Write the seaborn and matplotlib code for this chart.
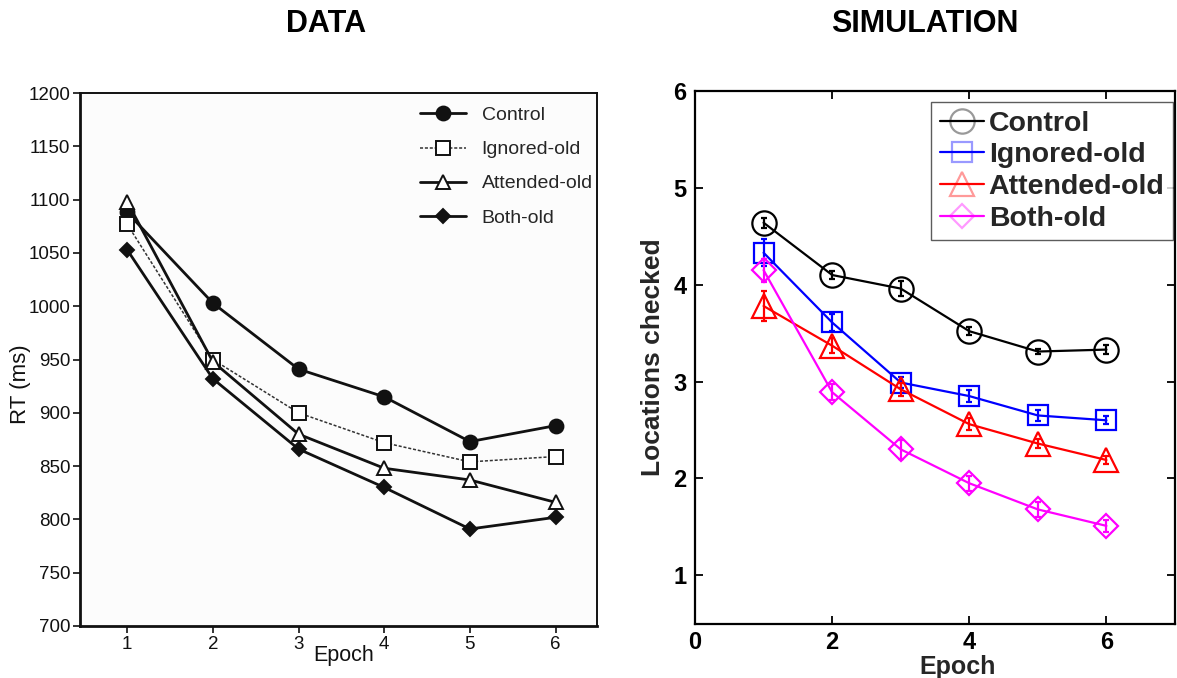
import numpy as np
import pandas as pd
import matplotlib
matplotlib.use("Agg")
import matplotlib.pyplot as plt
import seaborn as sns

# ---------------- data ----------------
epochs = [1, 2, 3, 4, 5, 6]
series_names = ["Control", "Ignored-old", "Attended-old", "Both-old"]

# DATA panel (RT in ms)
rt_control = [1088, 1003, 941, 915, 873, 888]
rt_ignored = [1077, 950, 900, 872, 854, 859]
rt_attended = [1098, 948, 880, 848, 837, 816]
rt_both = [1053, 932, 866, 830, 791, 802]

# SIMULATION panel (locations checked)
sim_control = [4.64, 4.10, 3.96, 3.52, 3.31, 3.33]
sim_ignored = [4.33, 3.61, 2.99, 2.85, 2.65, 2.60]
sim_attended = [3.78, 3.37, 2.92, 2.56, 2.36, 2.19]
sim_both = [4.15, 2.89, 2.30, 1.95, 1.68, 1.51]

err_control = [0.05, 0.04, 0.08, 0.04, 0.03, 0.05]
err_ignored = [0.14, 0.09, 0.06, 0.06, 0.06, 0.04]
err_attended = [0.15, 0.08, 0.07, 0.06, 0.05, 0.04]
err_both = [0.12, 0.08, 0.10, 0.08, 0.08, 0.06]

left_yticks = [700, 750, 800, 850, 900, 950, 1000, 1050, 1100, 1150, 1200]
right_yticks = [1, 2, 3, 4, 5, 6]
right_xticks = [0, 2, 4, 6]

# ---------------- style ----------------
sns.set_theme(style="ticks")
plt.rcParams["font.family"] = ["Liberation Sans", "DejaVu Sans"]

fig = plt.figure(figsize=(11.77, 6.78), dpi=100)
fig.patch.set_facecolor("white")
axL = fig.add_axes([0.068, 0.0767, 0.439, 0.786])
axR = fig.add_axes([0.5905, 0.0801, 0.4078, 0.7857])

# ---------------- left panel ----------------
left_vals = [rt_control, rt_ignored, rt_attended, rt_both]
left_styles = [
    dict(marker="o", color="#111111", lw=2.0, ls="-", ms=10, mfc="#111111"),
    dict(marker="s", color="#333333", lw=1.1, ls=(0, (2, 1.2)), ms=9.5, mfc="white"),
    dict(marker="^", color="#111111", lw=2.0, ls="-", ms=9.5, mfc="white"),
    dict(marker="D", color="#111111", lw=2.0, ls="-", ms=7, mfc="#111111"),
]
for name, vals, st in zip(series_names, left_vals, left_styles):
    sns.lineplot(x=epochs, y=vals, ax=axL, label=name, color=st["color"],
                 linewidth=st["lw"], linestyle=st["ls"], marker=st["marker"],
                 markersize=st["ms"], markerfacecolor=st["mfc"],
                 markeredgecolor="#111111", markeredgewidth=1.4)

axL.set_xlim(0.45, 6.48)
axL.set_ylim(700, 1200)
axL.set_yticks(left_yticks)
axL.set_xticks(epochs)
axL.tick_params(axis="both", direction="out", length=5, width=1.2,
                labelsize=13.5, colors="#111111", top=False, right=False, pad=2)
for sp in axL.spines.values():
    sp.set_visible(True)
    sp.set_color("#111111")
    sp.set_linewidth(1.4)
axL.spines["left"].set_linewidth(2.0)
axL.spines["bottom"].set_linewidth(2.0)
axL.set_xlabel("Epoch", fontsize=15.5, color="#111111")
axL.xaxis.label.set_va("center")
axL.xaxis.set_label_coords(0.511, -0.056)
axL.set_ylabel("RT (ms)", fontsize=16, color="#111111")
axL.yaxis.label.set_va("center")
axL.yaxis.set_label_coords(-0.116, 0.454)
legL = axL.legend(loc="upper right", frameon=False, fontsize=14,
                  handlelength=2.4, labelspacing=0.85, borderaxespad=0.0,
                  borderpad=0.2, bbox_to_anchor=(1.0, 0.982))
axL.set_facecolor("#fcfcfc")

# ---------------- right panel ----------------
right_vals = [sim_control, sim_ignored, sim_attended, sim_both]
right_errs = [err_control, err_ignored, err_attended, err_both]
right_colors = ["#000000", "#0000ff", "#ff0000", "#ff00ff"]
right_markers = ["o", "s", "^", "D"]
right_ms = [17.5, 14.5, 17.5, 12.5]

for name, vals, errs, c, m, ms in zip(series_names, right_vals, right_errs,
                                      right_colors, right_markers, right_ms):
    sns.lineplot(x=epochs, y=vals, ax=axR, label=name, color=c, linewidth=1.6,
                 marker=m, markersize=ms, markerfacecolor="none",
                 markeredgecolor=c, markeredgewidth=1.6)
    axR.errorbar(epochs, vals, yerr=errs, fmt="none", ecolor=c,
                 elinewidth=1.6, capsize=2.2, capthick=1.6)

axR.set_xlim(0, 7)
axR.set_ylim(0.5, 6)
axR.set_xticks(right_xticks)
axR.set_yticks(right_yticks)
axR.tick_params(axis="both", direction="in", length=6, width=1.3,
                labelsize=17, top=True, right=True, colors="black")
axR.tick_params(axis="x", pad=5.5)
axR.tick_params(axis="y", pad=6)
for lab in axR.get_xticklabels() + axR.get_yticklabels():
    lab.set_fontweight("bold")
for sp in axR.spines.values():
    sp.set_visible(True)
    sp.set_color("black")
    sp.set_linewidth(1.6)
axR.set_xlabel("Epoch", fontsize=18, fontweight="bold")
axR.xaxis.label.set_va("baseline")
axR.xaxis.set_label_coords(0.548, -0.095)
axR.set_ylabel("Locations checked", fontsize=19, fontweight="bold", labelpad=6)
legR = axR.legend(loc="upper right", frameon=True, fancybox=False,
                  handlelength=1.55, labelspacing=0.2, borderaxespad=0.0,
                  bbox_to_anchor=(0.996, 0.979),
                  handletextpad=0.18, borderpad=0.3,
                  prop={"weight": "bold", "size": 20.5})
legR.get_frame().set_edgecolor("#333333")
legR.get_frame().set_linewidth(1.0)
for h, c in zip(legR.legend_handles, right_colors):
    h.set_markeredgecolor(matplotlib.colors.to_rgba(c, 0.4))

# ---------------- titles ----------------
fig.text(0.277, 0.965, "DATA", ha="center", va="center", fontsize=22,
         fontweight="bold", color="black")
fig.text(0.786, 0.965, "SIMULATION", ha="center", va="center", fontsize=22,
         fontweight="bold", color="black")

fig.savefig("out.png", dpi=100)
